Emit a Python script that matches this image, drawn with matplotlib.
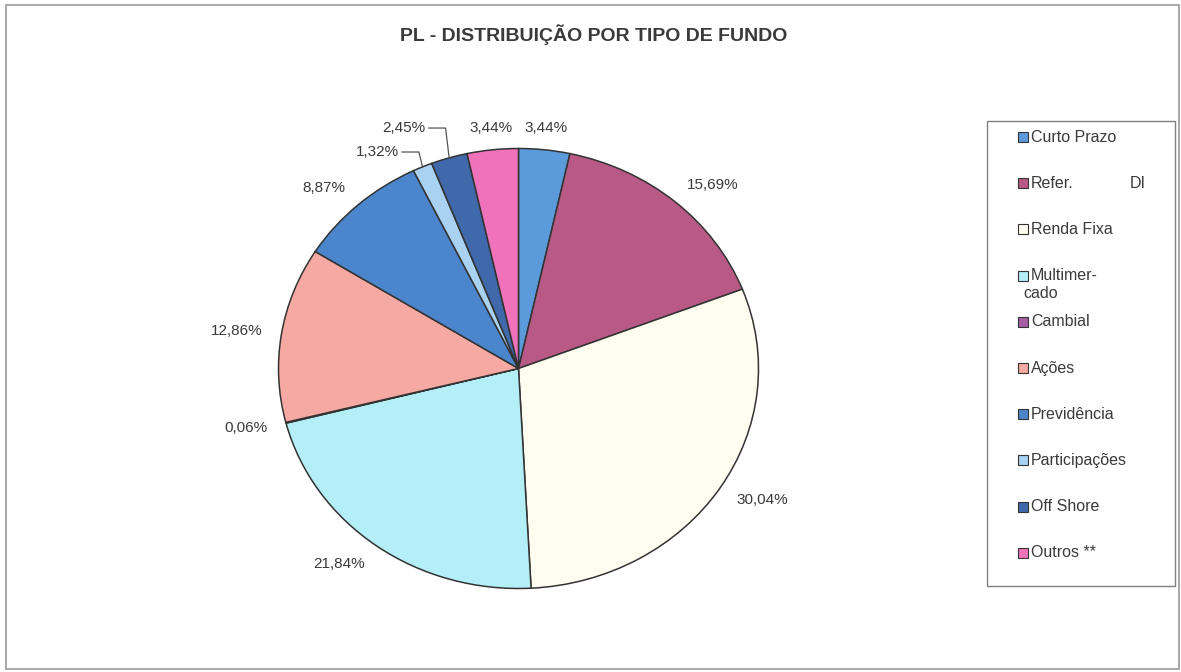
import matplotlib
matplotlib.use("Agg")
import matplotlib.pyplot as plt
from matplotlib.patches import Rectangle
import numpy as np

plt.rcParams['font.family'] = ['Liberation Sans', 'DejaVu Sans']

# dados do grafico
categorias = ['Curto Prazo', 'Refer. DI', 'Renda Fixa', 'Multimercado', 'Cambial',
              'Ações', 'Previdência', 'Participações', 'Off Shore', 'Outros **']
valores = [3.44, 15.69, 30.04, 21.84, 0.06, 12.86, 8.87, 1.32, 2.45, 3.44]
legenda = ['Curto Prazo', 'Refer.\tDI', 'Renda Fixa', 'Multimer-\ncado', 'Cambial',
           'Ações', 'Previdência', 'Participações', 'Off Shore', 'Outros **']
cores = ['#5b9bdc', '#b95a86', '#fffdf0', '#b4eef6', '#a85ca6',
         '#f6a9a2', '#4b86cc', '#a9d1f2', '#3f69aa', '#ef72ba']
titulo = 'PL - DISTRIBUIÇÃO POR TIPO DE FUNDO'

W, H = 1181, 672
fig = plt.figure(figsize=(W / 100, H / 100), dpi=100)
fig.patch.set_facecolor('white')

def px(x, y):
    return x / W, 1 - y / H

txt = '#3a3a3a'

# moldura externa
fig.patches.append(Rectangle(px(6, 669), 1173 / W, 664 / H, transform=fig.transFigure,
                             fill=False, edgecolor='#9a9a9a', lw=1.2))

fig.text(*px(594, 35), titulo, ha='center', va='center', fontsize=14,
         fontweight='bold', color=txt)

# pizza
cx, cy, rx, ry = 518.5, 368.5, 240, 220
ax = fig.add_axes([(cx - rx) / W, (H - cy - ry) / H, 2 * rx / W, 2 * ry / H])
wedges, _ = ax.pie(valores, colors=cores, startangle=90, counterclock=False,
                   wedgeprops=dict(edgecolor='#333333', linewidth=1.1))
ax.set_aspect('auto')
ax.set_xlim(-1, 1)
ax.set_ylim(-1, 1)
ax.axis('off')

rotulos = [('%.2f' % v).replace('.', ',') + '%' for v in valores]
guias = {7: 0.984, 8: 1.093}

for i, w in enumerate(wedges):
    ang = np.deg2rad((w.theta1 + w.theta2) / 2)
    c, s = np.cos(ang), np.sin(ang)
    if i in guias:
        yl = guias[i]
        xe = c - 0.015
        ax.plot([c, xe, xe - 0.07], [s, yl, yl], color='#555555', lw=0.9,
                clip_on=False)
        ax.text(xe - 0.083, yl, rotulos[i], ha='right', va='center',
                fontsize=11, color=txt, clip_on=False)
        continue
    if abs(c) < 0.2:
        ha = 'center'
    elif c > 0:
        ha = 'left'
    else:
        ha = 'right'
    ax.text(1.08 * c, 1.1 * s, rotulos[i], ha=ha, va='center', fontsize=11,
            color=txt, clip_on=False)

# legenda
fig.patches.append(Rectangle(px(987, 586), 188 / W, 465 / H, transform=fig.transFigure,
                             fill=False, edgecolor='#808080', lw=1))
for i, lab in enumerate(legenda):
    y = 137 + i * 46.2
    fig.patches.append(Rectangle(px(1018, y + 5), 10 / W, 10 / H,
                                 transform=fig.transFigure, facecolor=cores[i],
                                 edgecolor='#333333', lw=0.8))
    if '\t' in lab:
        a, b = lab.split('\t')
        fig.text(*px(1031, y), a, ha='left', va='center', fontsize=11.5, color=txt)
        fig.text(*px(1146, y), b, ha='right', va='center', fontsize=11.5, color=txt)
    elif '\n' in lab:
        a, b = lab.split('\n')
        fig.text(*px(1031, y), a, ha='left', va='center', fontsize=11.5, color=txt)
        fig.text(*px(1023, y + 18), b, ha='left', va='center', fontsize=11.5, color=txt)
    else:
        fig.text(*px(1031, y), lab, ha='left', va='center', fontsize=11.5, color=txt)

fig.savefig('out.png', dpi=100)
